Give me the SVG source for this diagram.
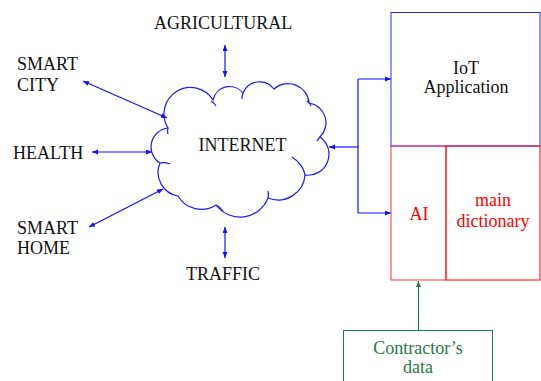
<svg xmlns="http://www.w3.org/2000/svg" width="541" height="381" viewBox="0 0 541 381">
  <style>
    .lbl { font-family: "Liberation Serif", "Times New Roman", serif; font-size: 18px; fill: #111; }
    .mid { text-anchor: middle; }
    .red { fill: #ff0000; }
    .grn { fill: #1f7a45; }
    .link { stroke: #1010ff; stroke-width: 1.2; fill: none; }
    .dual { marker-start: url(#tipB); marker-end: url(#tipB); }
    .one { marker-end: url(#tipB); }
    .cloud { stroke: #1a1aff; stroke-width: 1.2; fill: #fff; }
    .inner { stroke: #1a1aff; stroke-width: 1.2; fill: none; }
  </style>
  <defs>
    <marker id="tipB" markerUnits="userSpaceOnUse" markerWidth="7" markerHeight="6" refX="6" refY="2.5" orient="auto-start-reverse">
      <path d="M0,0 L6,2.5 L0,5 z" fill="#1010ff"/>
    </marker>
    <marker id="tipG" markerUnits="userSpaceOnUse" markerWidth="7" markerHeight="6" refX="6" refY="2.5" orient="auto">
      <path d="M0,0 L6,2.5 L0,5 z" fill="#1f7a45"/>
    </marker>
  </defs>

  <rect width="541" height="381" fill="#fff"/>

  <!-- central cloud -->
  <g id="internet">
    <path class="cloud" d="M168,128 A26,26 0 0 1 213,100 A17,17 0 0 1 243,93 A18,18 0 0 1 274,89 A21,21 0 0 1 309,103 A20,20 0 0 1 320,137 A21,21 0 0 1 305,175 A27,27 0 0 1 268,198 A30,30 0 0 1 216,205 A27,27 0 0 1 178,196 A24,24 0 0 1 160,163 A19,19 0 0 1 168,128 Z"/>
    <path class="inner" d="M168,128 Q167,131 168,134"/>
    <path class="inner" d="M211,101 Q214,103 216,106"/>
    <path class="inner" d="M243,93 Q242,96 242,99"/>
    <path class="inner" d="M307,101 Q310,103 311,106"/>
    <path class="inner" d="M320,137 Q318,139 317,141"/>
    <path class="inner" d="M292,157 Q303,164 305,175"/>
    <path class="inner" d="M268,198 Q269,194 268,191"/>
    <path class="inner" d="M216,205 Q220,207 223,211"/>
    <path class="inner" d="M160,163 Q165,162 170,164"/>
    <text class="lbl mid" x="242.5" y="151">INTERNET</text>
  </g>

  <g id="agricultural">
    <text class="lbl" x="154" y="29">AGRICULTURAL</text>
  </g>
  <g id="smart-city">
    <text class="lbl" x="17" y="70">SMART</text>
    <text class="lbl" x="17" y="91">CITY</text>
  </g>
  <g id="health">
    <text class="lbl" x="13" y="159">HEALTH</text>
  </g>
  <g id="smart-home">
    <text class="lbl" x="17" y="234">SMART</text>
    <text class="lbl" x="17" y="254">HOME</text>
  </g>
  <g id="traffic">
    <text class="lbl" x="186" y="280">TRAFFIC</text>
  </g>

  <!-- application block -->
  <g id="iot-app">
    <rect x="391" y="12.5" width="149" height="133.5" fill="none" stroke="#2a2aff" stroke-width="1"/>
    <text class="lbl mid" x="466" y="74">IoT</text>
    <text class="lbl mid" x="466" y="93">Application</text>
  </g>
  <g id="ai">
    <rect x="391" y="146" width="55" height="134" fill="none" stroke="#ff3030" stroke-width="1"/>
    <text class="lbl mid red" x="419" y="220">AI</text>
  </g>
  <g id="main-dictionary">
    <rect x="446" y="146" width="94" height="134" fill="none" stroke="#ff0000" stroke-width="1"/>
    <text class="lbl mid red" x="493" y="206">main</text>
    <text class="lbl mid red" x="493" y="227">dictionary</text>
  </g>
  <g id="contractor-data">
    <rect x="343.5" y="330.5" width="149" height="60" fill="none" stroke="#1f7a45" stroke-width="1"/>
    <text class="lbl mid grn" x="418" y="354">Contractor’s</text>
    <text class="lbl mid grn" x="418" y="373">data</text>
  </g>

  <!-- connectors -->
  <g id="connectors">
    <line class="link dual" x1="225" y1="45" x2="225" y2="77"/>
    <line class="link dual" x1="83" y1="81" x2="167" y2="118"/>
    <line class="link dual" x1="92" y1="152" x2="152" y2="152"/>
    <line class="link dual" x1="89" y1="227" x2="163" y2="189"/>
    <line class="link dual" x1="225" y1="227" x2="225" y2="258"/>
    <path class="link" d="M358,79 L358,213"/>
    <line class="link one" x1="358" y1="79" x2="391" y2="79"/>
    <line class="link one" x1="358" y1="213" x2="391" y2="213"/>
    <line class="link one" x1="358" y1="147" x2="329" y2="147"/>
    <line x1="418.5" y1="330" x2="418.5" y2="281" stroke="#1f7a45" stroke-width="1.2" marker-end="url(#tipG)"/>
  </g>
</svg>
